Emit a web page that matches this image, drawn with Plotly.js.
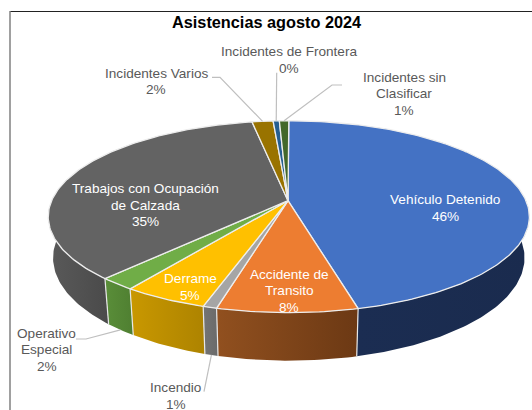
<!DOCTYPE html>
<html>
<head>
<meta charset="utf-8">
<script src="https://cdn.plot.ly/plotly-3.0.1.min.js"></script>
<style>html,body{margin:0;padding:0;background:#fff}#c{width:532px;height:410px}</style>
</head>
<body>
<div id="c"></div>
<script>
// Data (share of the pie, in percent; drawn clockwise from 12 o'clock)
var categories = ["Vehículo Detenido","Accidente de Transito","Incendio","Derrame","Operativo Especial","Trabajos con Ocupación de Calzada","Incidentes Varios","Incidentes de Frontera","Incidentes sin Clasificar"];
var values = [46.06, 8.05, 0.8, 4.9, 2.1, 35.2, 1.66, 0.49, 0.74];
var percentLabels = ["46%","8%","1%","5%","2%","35%","2%","0%","1%"];
var topColors = ["#4472C4","#ED7D31","#A5A5A5","#FFC000","#70AD47","#636363","#997300","#255E91","#43682B"];
var wallLeft  = ["#1B2D52","#91501F","#747474","#C99800","#5A8E39","#5A5A5A","#7a5c00","#1d4a73","#355322"];
var wallRight = ["#1A2B4E","#6C3914","#6a6a6a","#AD8300","#4F7F31","#4A4A4A","#7a5c00","#1d4a73","#355322"];

// Perspective view of the disc
var cx=288.8, cy=200.7, apexX=288, R=237.2, S=93.3, P=1/6, DEPTH=40, SHRINK=0.98;
function pt(frac, low){
  var a=2*Math.PI*frac, u=Math.sin(a), v=-Math.cos(a), k=1/(1-P*v);
  return low ? [cx+R*u*k*SHRINK, cy+S*v*k+DEPTH*k] : [cx+R*u*k, cy+S*v*k];
}
var total=values.reduce(function(a,b){return a+b},0);
var edges=[0]; values.forEach(function(v,i){edges.push(edges[i]+v/total)});
function arc(f0,f1,low){
  var n=Math.max(2,Math.ceil((f1-f0)*360)), xs=[], ys=[];
  for(var i=0;i<=n;i++){var p=pt(f0+(f1-f0)*i/n,low); xs.push(p[0]); ys.push(p[1]);}
  return [xs,ys];
}
var traces=[];
// side walls: only the near half of the rim is visible
var VIS0=0.25, VIS1=0.75;
categories.forEach(function(c,i){
  var f0=Math.max(edges[i],VIS0), f1=Math.min(edges[i+1],VIS1);
  if(f1<=f0) return;
  var t=arc(f0,f1,false), b=arc(f0,f1,true);
  traces.push({type:'scatter',mode:'lines',x:t[0].concat(b[0].slice().reverse(),[t[0][0]]),y:t[1].concat(b[1].slice().reverse(),[t[1][0]]),
    fill:'toself',fillgradient:{type:'horizontal',colorscale:[[0,wallLeft[i]],[1,wallRight[i]]]},
    line:{color:'rgba(0,0,0,0)',width:0},hoverinfo:'skip',showlegend:false});
});
// light seams between neighbouring walls
edges.forEach(function(f){
  if(f<=VIS0||f>=VIS1) return;
  var a=pt(f,false), b=pt(f,true);
  traces.push({type:'scatter',mode:'lines',x:[a[0],b[0]],y:[a[1],b[1]],line:{color:'#E8E8E8',width:1.2},hoverinfo:'skip',showlegend:false});
});
// top face
categories.forEach(function(c,i){
  var t=arc(edges[i],edges[i+1],false);
  traces.push({type:'scatter',mode:'lines',x:[apexX].concat(t[0],[apexX]),y:[cy].concat(t[1],[cy]),
    fill:'toself',fillcolor:topColors[i],line:{color:'#EDEDED',width:1.3},name:c,hoverinfo:'skip',showlegend:false});
});
// leader lines: from a label elbow to the middle of the slice
function leader(i,low,start,elbow){
  var f=(edges[i]+edges[i+1])/2, p=pt(f,low), xs=[start[0]], ys=[start[1]];
  if(elbow){xs.push(elbow[0]);ys.push(elbow[1]);}
  xs.push(p[0]);ys.push(p[1]);
  traces.push({type:'scatter',mode:'lines',x:xs,y:ys,line:{color:'#BFBFBF',width:1.2},hoverinfo:'skip',showlegend:false});
}
leader(6,false,[212,77.3],[220,77.3]);
leader(7,false,[276.7,72.7],null);
leader(8,false,[342,85],[332,85]);
leader(4,true,[76,339],[86,339]);
leader(2,true,[204,391.7],null);

var GREY='#595959', WHITE='#FFFFFF', FS=13.6, STEP=16.5;
var annotations=[];
function label(i,lines,x,y,color){
  lines.concat([percentLabels[i]]).forEach(function(t,j){
    annotations.push({xref:'x',yref:'y',x:x,y:y+j*STEP,yanchor:'middle',xanchor:'center',showarrow:false,align:'center',
      text:t,font:{family:'"Liberation Sans",Arial,sans-serif',size:FS,color:color}});
  });
}
label(0,["Vehículo Detenido"],445,199.5,WHITE);
label(1,["Accidente de","Transito"],289,274.3,WHITE);
label(2,["Incendio"],175.5,387.7,GREY);
label(3,["Derrame"],190,278.7,WHITE);
label(4,["Operativo","Especial"],46.5,333.3,GREY);
label(5,["Trabajos con Ocupación","de Calzada"],145,188.5,WHITE);
label(6,["Incidentes Varios"],156,73,GREY);
label(7,["Incidentes de Frontera"],289,51.5,GREY);
label(8,["Incidentes sin","Clasificar"],404,77.3,GREY);
annotations.push({xref:'x',yref:'y',x:266,y:22,yanchor:'middle',xanchor:'center',showarrow:false,text:'<b>Asistencias agosto 2024</b>',
   font:{family:'"Liberation Sans",Arial,sans-serif',size:16.3,color:'#000'}});
var layout={width:532,height:410,margin:{l:0,r:0,t:0,b:0},paper_bgcolor:'#fff',plot_bgcolor:'#fff',showlegend:false,
  xaxis:{range:[0,532],visible:false,fixedrange:true},
  yaxis:{range:[410,0],visible:false,fixedrange:true},
  annotations:annotations,
  shapes:[
    {type:'line',xref:'x',yref:'y',x0:10,x1:532,y0:11.5,y1:11.5,line:{color:'#222',width:1}},
    {type:'line',xref:'x',yref:'y',x0:10,x1:10,y0:11,y1:410,line:{color:'#808080',width:1.5}}
  ]};
Plotly.newPlot('c',traces,layout,{staticPlot:true,displayModeBar:false});
</script>
</body>
</html>
